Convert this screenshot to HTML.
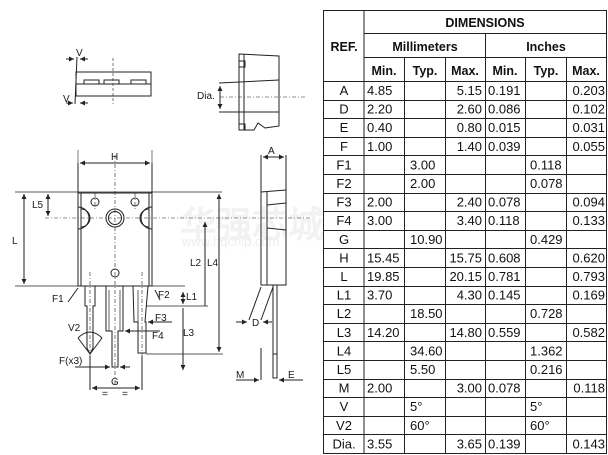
<!DOCTYPE html>
<html><head><meta charset="utf-8"><style>
html,body{margin:0;padding:0;background:#fff;width:608px;height:455px;overflow:hidden}
svg{position:absolute;left:0;top:0}
text{font-family:"Liberation Sans",Arial,sans-serif}
</style></head><body>
<svg width="608" height="455" viewBox="0 0 608 455" xmlns="http://www.w3.org/2000/svg">
<defs><marker id="a" viewBox="0 0 6 6" refX="6" refY="3" markerWidth="5" markerHeight="5" orient="auto-start-reverse"><path d="M0 0 L6 3 L0 6 Z" fill="#222"/></marker></defs>
<text x="180" y="237" font-size="36" font-weight="bold" fill="#f2f2f2" font-family="'Liberation Sans','Noto Sans CJK SC',sans-serif">华强芯城</text>
<text x="182" y="246" font-size="13" fill="#eeeeee">www.hqchip.com</text>

<g stroke="#222" stroke-width="1" fill="none">
<rect x="76" y="72" width="75" height="24"/>
<line x1="76" y1="84" x2="151" y2="84"/>
<rect x="84" y="80" width="15" height="4"/><rect x="104" y="80" width="15" height="4"/><rect x="131" y="80" width="15" height="4"/>
<line x1="77" y1="57" x2="75" y2="104"/>
<line x1="113" y1="58" x2="113" y2="104" stroke-dasharray="3,2" stroke-width=".6"/>
<line x1="66" y1="59" x2="74" y2="59" marker-end="url(#a)"/><line x1="88" y1="59" x2="80" y2="59" marker-end="url(#a)"/>
<line x1="66" y1="103" x2="73" y2="103" marker-end="url(#a)"/><line x1="88" y1="103" x2="80" y2="103" marker-end="url(#a)"/>
<path d="M239 54 L279 56 L279 126 L265 128 L258 123 L254 130 L239 130 Z"/>
<line x1="244" y1="54" x2="244" y2="130"/>
<rect x="239" y="61" width="6" height="6"/><rect x="239" y="124" width="6" height="6"/>
<line x1="219" y1="83" x2="279" y2="80"/><line x1="219" y1="112" x2="279" y2="112"/>
<line x1="220" y1="97" x2="305" y2="97" stroke-dasharray="4,2,1,2" stroke-width=".6"/>
<line x1="220" y1="86" x2="220" y2="109" marker-start="url(#a)" marker-end="url(#a)"/>

<path d="M78 163 L78 286 L152 286 L152 163"/>
<line x1="78" y1="193" x2="152" y2="193"/>
<line x1="81" y1="193" x2="81" y2="286"/><line x1="149" y1="193" x2="149" y2="286"/>
<circle cx="115" cy="218" r="9"/><circle cx="115" cy="218" r="6.5"/>
<circle cx="95" cy="202" r="4"/><circle cx="135" cy="202" r="4"/>
<circle cx="115" cy="273" r="4"/>
<path d="M78 207 A11 11 0 0 1 78 229"/><path d="M81 209 A9 9 0 0 1 81 227"/>
<path d="M152 207 A11 11 0 0 0 152 229"/><path d="M149 209 A9 9 0 0 0 149 227"/>
<line x1="78" y1="163" x2="78" y2="150" stroke-width=".6"/><line x1="152" y1="163" x2="152" y2="150" stroke-width=".6"/>
<path d="M85 286 L85 306 L87 306 L87 348 L90 354 L93 348 L93 306 L95 306 L95 286"/>
<path d="M106 286 L106 331 L112 331 L112 367 L118 367 L118 331 L123 331 L123 286"/>
<line x1="109" y1="290" x2="109" y2="331" stroke-width=".7"/><line x1="120" y1="290" x2="120" y2="331" stroke-width=".7"/>
<path d="M133 286 L134 322 L138 322 L138 353 L146 353 L146 322 L145 322 L148 286"/>
<line x1="138" y1="290" x2="138" y2="322" stroke-width=".7"/>
<g stroke-dasharray="4,2,1,2" stroke-width=".6">
<line x1="115" y1="155" x2="115" y2="385"/>
<line x1="45" y1="218" x2="312" y2="218"/>
<line x1="90" y1="272" x2="90" y2="385"/><line x1="142" y1="272" x2="142" y2="385"/>
<line x1="95" y1="193" x2="95" y2="210"/><line x1="135" y1="193" x2="135" y2="210"/>
</g>
<line x1="80" y1="163" x2="150" y2="163" marker-start="url(#a)" marker-end="url(#a)"/>
<line x1="15" y1="192" x2="222" y2="192" stroke-width=".7"/>
<line x1="24" y1="194" x2="24" y2="284" marker-start="url(#a)" marker-end="url(#a)"/>
<line x1="15" y1="286" x2="185" y2="286" stroke-width=".7"/>
<line x1="48" y1="194" x2="48" y2="216" marker-start="url(#a)" marker-end="url(#a)"/>
<line x1="205" y1="222" x2="205" y2="306" marker-start="url(#a)"/>
<line x1="219" y1="194" x2="219" y2="352" marker-start="url(#a)" marker-end="url(#a)"/>
<line x1="146" y1="306" x2="208" y2="306" stroke-width=".7"/>
<line x1="183" y1="292" x2="183" y2="304" marker-start="url(#a)" marker-end="url(#a)"/>
<line x1="183" y1="308" x2="183" y2="370" marker-end="url(#a)"/>
<line x1="146" y1="354" x2="223" y2="354" stroke-width=".7"/>
<line x1="90" y1="356" x2="90" y2="390"/><line x1="142" y1="356" x2="142" y2="390"/>
<line x1="92" y1="388" x2="140" y2="388" marker-start="url(#a)" marker-end="url(#a)"/>
<line x1="75" y1="367" x2="110" y2="367" marker-end="url(#a)"/><line x1="130" y1="367" x2="120" y2="367" marker-end="url(#a)"/>
<line x1="172" y1="322" x2="148" y2="322" marker-end="url(#a)"/><line x1="160" y1="331" x2="125" y2="331" marker-end="url(#a)"/>
<line x1="68" y1="302" x2="78" y2="288"/><line x1="160" y1="300" x2="155" y2="290"/>
<path d="M78 338 Q90 326 102 338"/>
<line x1="78" y1="338" x2="90" y2="354"/><line x1="102" y1="338" x2="90" y2="354"/>
<path d="M261 155 L261 285 L286 285 L286 155"/>
<path d="M261 192 L286 190"/><line x1="267" y1="192" x2="267" y2="285"/>
<path d="M267 205 L286 203 M267 228 L286 230"/>
<path d="M273 285 L273 378 L277 378 L277 285"/>
<line x1="273" y1="354" x2="277" y2="354"/>
<line x1="263" y1="157" x2="284" y2="157" marker-start="url(#a)" marker-end="url(#a)"/>
<line x1="261" y1="287" x2="249" y2="320"/><line x1="273" y1="287" x2="261" y2="320"/>
<line x1="236" y1="322" x2="247" y2="322" marker-end="url(#a)"/><line x1="272" y1="322" x2="263" y2="322" marker-end="url(#a)"/>
<line x1="261" y1="348" x2="261" y2="380"/>
<line x1="236" y1="380" x2="259" y2="380" marker-end="url(#a)"/><line x1="303" y1="380" x2="279" y2="380" marker-end="url(#a)"/>
</g>
<g font-size="10" fill="#1a1a1a">
<text x="76" y="56">V</text><text x="63" y="102">V</text>
<text x="197" y="99">Dia.</text>
<text x="111" y="160">H</text><text x="32" y="208">L5</text><text x="12" y="244">L</text>
<text x="190" y="266">L2</text><text x="207" y="266">L4</text><text x="186" y="300">L1</text>
<text x="183" y="336">L3</text><text x="52" y="302">F1</text><text x="158" y="298">F2</text>
<text x="155" y="321">F3</text><text x="152" y="339">F4</text>
<text x="68" y="331">V2</text><text x="59" y="364">F(x3)</text>
<text x="111" y="385">G</text><text x="102" y="397">=</text><text x="122" y="397">=</text>
<text x="268" y="154">A</text><text x="252" y="326">D</text>
<text x="236" y="378">M</text><text x="288" y="378">E</text>
</g>

<g stroke="#222" stroke-width="1" fill="none">
<rect x="323.5" y="10.5" width="283" height="443"/>
<line x1="364" y1="10" x2="364" y2="454"/>
<line x1="364" y1="33.5" x2="607" y2="33.5"/>
<line x1="364" y1="57.5" x2="607" y2="57.5"/>
<line x1="323" y1="81.5" x2="607" y2="81.5"/>
<line x1="485.5" y1="33" x2="485.5" y2="454"/>
<line x1="404.5" y1="57" x2="404.5" y2="454"/><line x1="445.5" y1="57" x2="445.5" y2="454"/>
<line x1="525.5" y1="57" x2="525.5" y2="454"/><line x1="566.5" y1="57" x2="566.5" y2="454"/>
</g>
<g font-size="12.5" font-weight="bold" fill="#111">
<text x="485" y="27" text-anchor="middle">DIMENSIONS</text>
<text x="344" y="51" text-anchor="middle">REF.</text>
<text x="425" y="51" text-anchor="middle">Millimeters</text>
<text x="546" y="51" text-anchor="middle">Inches</text>
<text x="384" y="75" text-anchor="middle">Min.</text><text x="425" y="75" text-anchor="middle">Typ.</text><text x="465" y="75" text-anchor="middle">Max.</text>
<text x="505" y="75" text-anchor="middle">Min.</text><text x="546" y="75" text-anchor="middle">Typ.</text><text x="586" y="75" text-anchor="middle">Max.</text>
</g>
<g id="rows" font-size="13" fill="#111" stroke="#222"></g>
</svg>
<script>
var d=[["A","4.85","","5.15","0.191","","0.203"],["D","2.20","","2.60","0.086","","0.102"],["E","0.40","","0.80","0.015","","0.031"],["F","1.00","","1.40","0.039","","0.055"],["F1","","3.00","","","0.118",""],["F2","","2.00","","","0.078",""],["F3","2.00","","2.40","0.078","","0.094"],["F4","3.00","","3.40","0.118","","0.133"],["G","","10.90","","","0.429",""],["H","15.45","","15.75","0.608","","0.620"],["L","19.85","","20.15","0.781","","0.793"],["L1","3.70","","4.30","0.145","","0.169"],["L2","","18.50","","","0.728",""],["L3","14.20","","14.80","0.559","","0.582"],["L4","","34.60","","","1.362",""],["L5","","5.50","","","0.216",""],["M","2.00","","3.00","0.078","","0.118"],["V","","5°","","","5°",""],["V2","","60°","","","60°",""],["Dia.","3.55","","3.65","0.139","","0.143"]];
var g=document.getElementById("rows"),h=18.6,s="";
var xs=[[344,"middle"],[367,"start"],[410,"start"],[482,"end"],[488,"start"],[530,"start"],[605,"end"]];
for(var i=0;i<d.length;i++){var y=81+h*i;
if(i>0)s+='<line x1="323" x2="607" y1="'+(Math.round(y)+.5)+'" y2="'+(Math.round(y)+.5)+'" stroke-width="1"/>';
for(var j=0;j<7;j++){if(d[i][j])s+='<text stroke="none" x="'+xs[j][0]+'" y="'+(y+14)+'" text-anchor="'+xs[j][1]+'">'+d[i][j]+'</text>';}}
g.innerHTML=s;
</script>
</body></html>
